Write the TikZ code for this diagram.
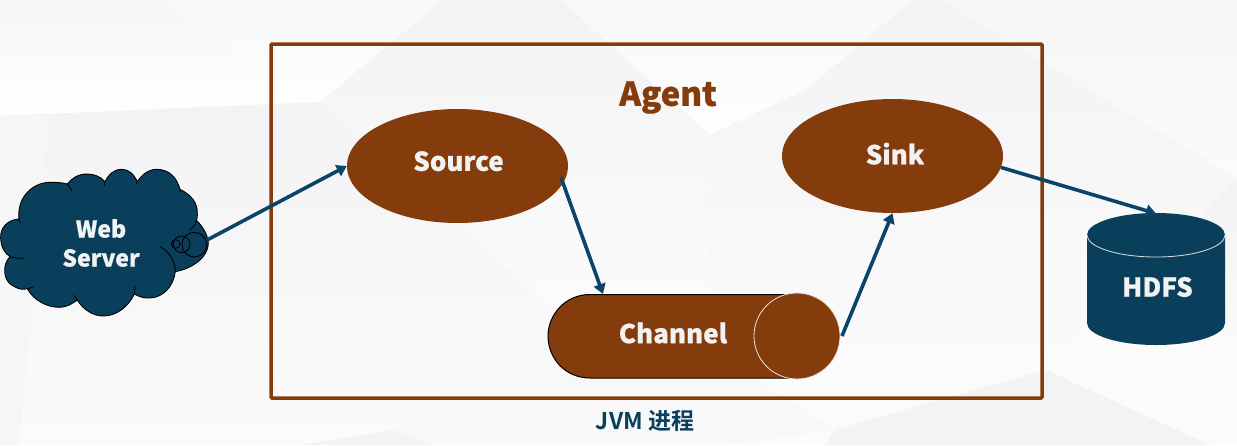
\documentclass[tikz,border=0pt]{standalone}
\usepackage{fontspec}
\setmainfont{Noto Sans CJK SC Black}[FakeBold=0.7]
\newfontfamily\cjkbold{Noto Sans CJK SC Bold}
\usetikzlibrary{shapes.geometric,arrows.meta}
\definecolor{brownc}{HTML}{843C0C}
\definecolor{navyc}{HTML}{0A3F5C}
\definecolor{linkc}{HTML}{0B4468}
\definecolor{lighttxt}{HTML}{F2F2F2}
\definecolor{gA}{HTML}{F3F3F5}
\definecolor{gB}{HTML}{F6F6F7}
\definecolor{gC}{HTML}{FBFBFB}
\definecolor{gD}{HTML}{FEFEFE}
\definecolor{gE}{HTML}{F8F8F9}
\tikzset{
  conn/.style={draw=linkc,line width=3.6pt,-{Triangle[length=10pt,width=12pt]}},
  elli/.style={ellipse,fill=brownc,minimum width=221pt,minimum height=114pt,inner sep=0pt,text=lighttxt,font=\fontsize{26}{30}\selectfont},
  lab/.style={inner sep=0pt,text=lighttxt,font=\fontsize{26}{29}\selectfont,align=center},
  holder/.style={inner sep=0pt,outer sep=0pt},
  bgpoly/.style 2 args={top color=#1,bottom color=#2,draw=none}
}
\begin{document}
\begin{tikzpicture}[x=1pt,y=-1pt]
\useasboundingbox (0,0) rectangle (1237,445);
% background
\fill[gC] (0,0) rectangle (1237,445);
\shade[bgpoly={gB}{white}] (0,0) -- (156,0) -- (320,102) -- (0,116) -- cycle;
\shade[bgpoly={gE}{gD}] (156,0) -- (443,0) -- (320,102) -- cycle;
\shade[bgpoly={gA}{gC}] (0,116) -- (320,102) -- (550,305) -- (395,430) -- (431,445) -- (0,445) -- cycle;
\shade[bgpoly={gA}{gC}] (443,0) -- (561,0) -- (710,135) -- (706,300) -- (550,305) -- (320,102) -- cycle;
\shade[bgpoly={gE}{gD}] (561,0) -- (913,0) -- (807,89) -- (710,135) -- cycle;
\shade[bgpoly={gA}{gC}] (807,89) -- (913,0) -- (939,0) -- (1237,178) -- (1202,213) -- (1046,370) -- (706,370) -- (710,135) -- cycle;
\shade[bgpoly={gB}{gC}] (939,0) -- (1237,0) -- (1237,178) -- cycle;
\shade[bgpoly={gA}{gC}] (1237,178) -- (1202,213) -- (1165,345) -- (1237,350) -- cycle;
\fill[gA] (1046,370) -- (834,430) -- (826,445) -- (1210,445) -- cycle;
\fill[gA] (393,430) -- (300,445) -- (431,445) -- cycle;
\fill[gE] (550,305) -- (393,430) -- (431,445) -- (724,445) -- (834,430) -- (755,379) -- cycle;
\fill[gB] (0,116) -- (49,113) -- (19,445) -- (0,445) -- cycle;

% agent frame
\node[holder,draw=brownc,line width=3.5pt,minimum width=771pt,minimum height=354pt,rounded corners=1pt] (agent) at (656.5,221) {};
\node[holder,text=brownc,font=\fontsize{33}{38}\selectfont] (agenttxt) at (668,97.5) {\raisebox{-1pt}{Agent}};
\node[holder,text=navyc,font=\cjkbold\fontsize{23}{27}\selectfont] (jvm) at (645,421) {JVM 进程};

% cloud
\begin{scope}[shift={(0,150)},x=0.3333pt,y=-0.3333pt]
\path[fill=navyc,draw=black,line width=0.9pt]
  (57,207) .. controls (20,210) and (0,235) .. (2,265)
  .. controls (4,295) and (15,310) .. (30,320)
  .. controls (5,345) and (10,395) .. (40,408)
  .. controls (55,418) and (70,420) .. (82,416)
  .. controls (100,450) and (140,472) .. (178,472)
  .. controls (200,472) and (215,462) .. (232,450)
  .. controls (250,480) and (280,498) .. (310,498)
  .. controls (350,498) and (385,470) .. (403,432)
  .. controls (420,442) and (435,445) .. (450,444)
  .. controls (490,442) and (520,410) .. (526,365)
  .. controls (580,355) and (625,320) .. (625,280)
  .. controls (625,260) and (610,230) .. (590,212)
  .. controls (598,170) and (585,140) .. (540,118)
  .. controls (530,80) and (505,58) .. (470,58)
  .. controls (445,58) and (425,75) .. (412,95)
  .. controls (400,70) and (385,58) .. (365,58)
  .. controls (340,58) and (325,75) .. (315,95)
  .. controls (300,78) and (280,72) .. (260,72)
  .. controls (235,72) and (215,85) .. (202,102)
  .. controls (185,97) and (165,97) .. (150,97)
  .. controls (100,97) and (50,140) .. (57,207) -- cycle;
\draw[black,line width=0.9pt]
  (30,320) .. controls (40,323) and (55,325) .. (70,325)
  (82,416) .. controls (88,415) and (95,413) .. (100,411)
  (232,450) .. controls (228,445) and (225,442) .. (222,436)
  (403,432) .. controls (404,425) and (405,418) .. (405,408)
  (526,365) .. controls (528,340) and (510,305) .. (480,290)
  (590,212) .. controls (585,225) and (578,235) .. (567,241)
  (540,118) .. controls (540,122) and (540,125) .. (541,127)
  (412,95) .. controls (411,98) and (410,100) .. (408,103)
  (315,95) .. controls (314,100) and (313,104) .. (312,108)
  (202,102) .. controls (207,110) and (212,115) .. (216,123)
  (57,207) .. controls (58,212) and (60,215) .. (60,218);
\draw[black,line width=0.9pt] (527,282) circle[x radius=13,y radius=13] (545,283) circle[x radius=25,y radius=25] (583,284) circle[x radius=37,y radius=37];
\end{scope}
\node[lab,font=\fontsize{23}{29}\selectfont] (web) at (101,243) {Web\\Server};
\coordinate (webout) at (207,240);

% source and sink
\node[elli] (source) at (457.5,166) {\raisebox{10pt}{\hspace*{2pt}Source}};
\node[elli] (sink) at (892.5,156) {\raisebox{5pt}{\hspace*{5pt}Sink}};

% channel
\node[holder,minimum width=292pt,minimum height=84pt] (channel) at (694,336) {};
\draw[black,fill=brownc,line width=1pt] (797,294.5) -- (590,294.5) .. controls (565,294.5) and (548,315) .. (548,336) .. controls (548,358) and (565,378) .. (590,378) -- (797,378) -- cycle;
\node[circle,fill=brownc,draw=white!85!brownc,line width=0.8pt,minimum size=86pt,inner sep=0pt] (chcap) at (797,336) {};
\node[lab] (chtxt) at (673,333) {Channel};

% hdfs
\node[holder,minimum width=138pt,minimum height=131pt] (hdfs) at (1156,279) {};
\fill[navyc] (1087,235) -- (1087,323) arc[start angle=180,end angle=0,x radius=69,y radius=22] -- (1225,235) arc[start angle=0,end angle=-180,x radius=69,y radius=22] -- cycle;
\draw[white!85!navyc,line width=0.8pt] (1087,235) arc[start angle=180,end angle=0,x radius=69,y radius=22];
\node[lab] (hdfstxt) at (1157.5,287) {HDFS};

% connectors
\draw[conn] (webout) -- (source.west);
\draw[conn] ([xshift=-5pt]source.-6) -- ([xshift=55pt]channel.north west);
\draw[conn] ([xshift=2pt]channel.east) -- (sink.south);
\draw[conn] (sink.-6) -- (hdfs.north);
\end{tikzpicture}
\end{document}
